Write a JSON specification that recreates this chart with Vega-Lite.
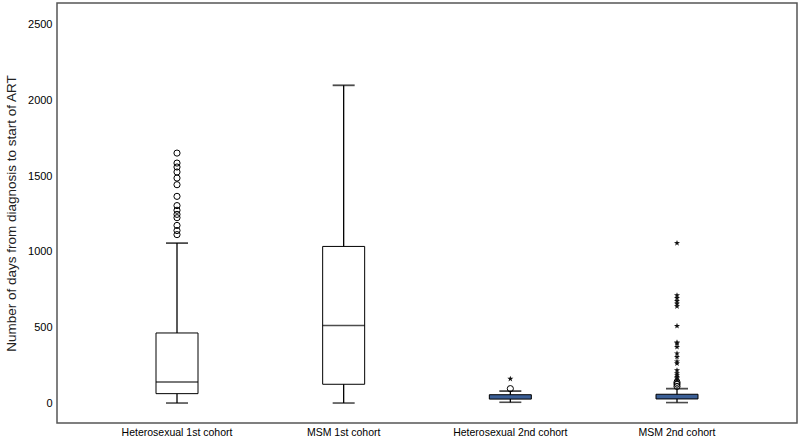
{
  "$schema": "https://vega.github.io/schema/vega-lite/v6.json",
  "width": 740,
  "height": 420,
  "autosize": {"type": "none"},
  "padding": {"left": 57, "top": 3, "right": 3, "bottom": 17},
  "background": "white",
  "config": {
    "view": {"stroke": "#555555", "strokeWidth": 1.5},
    "font": "Liberation Sans"
  },
  "datasets": {
    "summary": [
      {"group": "Heterosexual 1st cohort", "lo": 0, "q1": 62, "med": 139, "q3": 463, "hi": 1057, "fill": "white"},
      {"group": "MSM 1st cohort", "lo": 0, "q1": 124, "med": 513, "q3": 1035, "hi": 2100, "fill": "white"},
      {"group": "Heterosexual 2nd cohort", "lo": 5, "q1": 26, "med": 40, "q3": 55, "hi": 79, "fill": "blue"},
      {"group": "MSM 2nd cohort", "lo": 3, "q1": 27, "med": 42, "q3": 58, "hi": 95, "fill": "blue"}
    ],
    "outliers": [
      {"group": "Heterosexual 1st cohort", "value": 1652, "kind": "outlier"},
      {"group": "Heterosexual 1st cohort", "value": 1586, "kind": "outlier"},
      {"group": "Heterosexual 1st cohort", "value": 1560, "kind": "outlier"},
      {"group": "Heterosexual 1st cohort", "value": 1527, "kind": "outlier"},
      {"group": "Heterosexual 1st cohort", "value": 1487, "kind": "outlier"},
      {"group": "Heterosexual 1st cohort", "value": 1443, "kind": "outlier"},
      {"group": "Heterosexual 1st cohort", "value": 1366, "kind": "outlier"},
      {"group": "Heterosexual 1st cohort", "value": 1305, "kind": "outlier"},
      {"group": "Heterosexual 1st cohort", "value": 1274, "kind": "outlier"},
      {"group": "Heterosexual 1st cohort", "value": 1247, "kind": "outlier"},
      {"group": "Heterosexual 1st cohort", "value": 1225, "kind": "outlier"},
      {"group": "Heterosexual 1st cohort", "value": 1174, "kind": "outlier"},
      {"group": "Heterosexual 1st cohort", "value": 1140, "kind": "outlier"},
      {"group": "Heterosexual 1st cohort", "value": 1113, "kind": "outlier"},
      {"group": "Heterosexual 2nd cohort", "value": 95, "kind": "outlier"},
      {"group": "Heterosexual 2nd cohort", "value": 160, "kind": "extreme"},
      {"group": "MSM 2nd cohort", "value": 110, "kind": "outlier"},
      {"group": "MSM 2nd cohort", "value": 125, "kind": "outlier"},
      {"group": "MSM 2nd cohort", "value": 137, "kind": "outlier"},
      {"group": "MSM 2nd cohort", "value": 150, "kind": "extreme"},
      {"group": "MSM 2nd cohort", "value": 162, "kind": "extreme"},
      {"group": "MSM 2nd cohort", "value": 172, "kind": "extreme"},
      {"group": "MSM 2nd cohort", "value": 184, "kind": "extreme"},
      {"group": "MSM 2nd cohort", "value": 196, "kind": "extreme"},
      {"group": "MSM 2nd cohort", "value": 216, "kind": "extreme"},
      {"group": "MSM 2nd cohort", "value": 262, "kind": "extreme"},
      {"group": "MSM 2nd cohort", "value": 275, "kind": "extreme"},
      {"group": "MSM 2nd cohort", "value": 304, "kind": "extreme"},
      {"group": "MSM 2nd cohort", "value": 328, "kind": "extreme"},
      {"group": "MSM 2nd cohort", "value": 370, "kind": "extreme"},
      {"group": "MSM 2nd cohort", "value": 394, "kind": "extreme"},
      {"group": "MSM 2nd cohort", "value": 400, "kind": "extreme"},
      {"group": "MSM 2nd cohort", "value": 509, "kind": "extreme"},
      {"group": "MSM 2nd cohort", "value": 639, "kind": "extreme"},
      {"group": "MSM 2nd cohort", "value": 657, "kind": "extreme"},
      {"group": "MSM 2nd cohort", "value": 674, "kind": "extreme"},
      {"group": "MSM 2nd cohort", "value": 694, "kind": "extreme"},
      {"group": "MSM 2nd cohort", "value": 712, "kind": "extreme"},
      {"group": "MSM 2nd cohort", "value": 1057, "kind": "extreme"}
    ]
  },
  "encoding": {
    "x": {
      "field": "group",
      "type": "nominal",
      "sort": ["Heterosexual 1st cohort", "MSM 1st cohort", "Heterosexual 2nd cohort", "MSM 2nd cohort"],
      "scale": {"type": "band", "paddingInner": 0, "paddingOuter": 0.22},
      "axis": {
        "title": null,
        "labelAngle": 0,
        "ticks": false,
        "domain": false,
        "labelPadding": 4,
        "labelFontSize": 10.5,
        "labelColor": "#000000",
        "labelFont": "Liberation Sans"
      }
    }
  },
  "layer": [
    {
      "data": {"name": "summary"},
      "mark": {"type": "rule", "color": "black", "strokeWidth": 1.3},
      "encoding": {
        "y": {
          "field": "lo",
          "type": "quantitative",
          "scale": {"domain": [-132, 2644], "nice": false, "zero": false},
          "axis": {
            "title": "Number of days from diagnosis to start of ART",
            "titleFontSize": 13.5,
            "titleFontWeight": "normal",
            "titleColor": "#222222",
            "titleFont": "Liberation Sans",
            "titlePadding": 9,
            "values": [0, 500, 1000, 1500, 2000, 2500],
            "format": "d",
            "ticks": false,
            "grid": false,
            "domain": false,
            "labelPadding": 5,
            "labelFontSize": 11,
            "labelColor": "#000000",
            "labelFont": "Liberation Sans"
          }
        },
        "y2": {"field": "hi"}
      }
    },
    {
      "data": {"name": "summary"},
      "mark": {"type": "tick", "color": "black", "size": 22, "thickness": 1.6},
      "encoding": {"y": {"field": "lo", "type": "quantitative"}}
    },
    {
      "data": {"name": "summary"},
      "mark": {"type": "tick", "color": "black", "size": 22, "thickness": 1.8},
      "encoding": {"y": {"field": "hi", "type": "quantitative"}}
    },
    {
      "data": {"name": "summary"},
      "mark": {"type": "bar", "size": 42, "stroke": "black", "strokeWidth": 1},
      "encoding": {
        "y": {"field": "q1", "type": "quantitative"},
        "y2": {"field": "q3"},
        "fill": {
          "field": "fill",
          "type": "nominal",
          "scale": {"domain": ["white", "blue"], "range": ["#ffffff", "#3b5f96"]},
          "legend": null
        }
      }
    },
    {
      "data": {"name": "summary"},
      "transform": [{"filter": "datum.fill == 'white'"}],
      "mark": {"type": "tick", "color": "black", "size": 42, "thickness": 1.5},
      "encoding": {"y": {"field": "med", "type": "quantitative"}}
    },
    {
      "data": {"name": "outliers"},
      "transform": [{"filter": "datum.kind == 'outlier'"}],
      "mark": {"type": "point", "shape": "circle", "filled": false, "color": "black", "size": 38, "strokeWidth": 1, "opacity": 1},
      "encoding": {"y": {"field": "value", "type": "quantitative"}}
    },
    {
      "data": {"name": "outliers"},
      "transform": [{"filter": "datum.kind == 'extreme'"}],
      "mark": {
        "type": "point",
        "shape": "M0,-1L0.235,-0.324L0.951,-0.309L0.380,0.124L0.588,0.809L0,0.4L-0.588,0.809L-0.380,0.124L-0.951,-0.309L-0.235,-0.324Z",
        "filled": true,
        "color": "#111111",
        "size": 40,
        "opacity": 1
      },
      "encoding": {"y": {"field": "value", "type": "quantitative"}}
    }
  ]
}
